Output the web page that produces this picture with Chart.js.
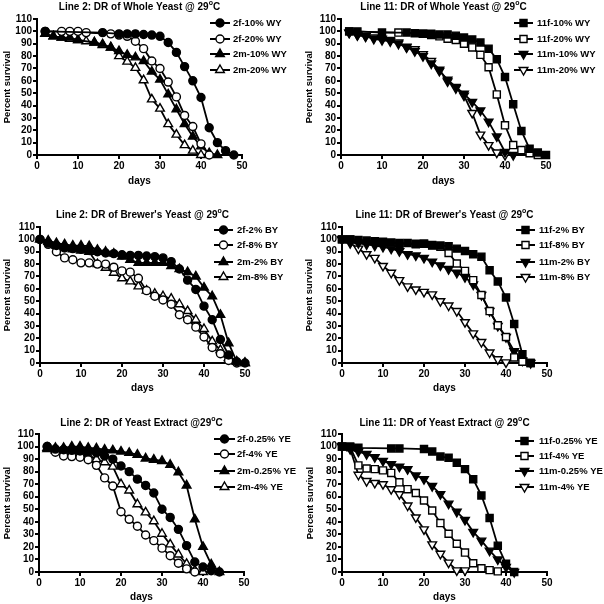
<!DOCTYPE html>
<html>
<head>
<meta charset="utf-8">
<script src="https://cdn.jsdelivr.net/npm/chart.js@4.4.0/dist/chart.umd.min.js"></script>
<style>
  html, body { margin: 0; padding: 0; background: #fff; }
  #wrap { position: relative; width: 604px; height: 604px; overflow: hidden; }
  canvas { position: absolute; }
</style>
</head>
<body>
<div id="wrap">
  <canvas id="p1" width="300" height="200" style="left:0;top:0"></canvas>
  <canvas id="p2" width="304" height="200" style="left:300px;top:0"></canvas>
  <canvas id="p3" width="300" height="200" style="left:0;top:200px"></canvas>
  <canvas id="p4" width="304" height="200" style="left:300px;top:200px"></canvas>
  <canvas id="p5" width="300" height="204" style="left:0;top:400px"></canvas>
  <canvas id="p6" width="304" height="204" style="left:300px;top:400px"></canvas>
</div>
<script>
// [day, percent survival]
// Line 2, whole yeast
const wy2_f10 = [[2,100],[16,99],[20,98],[22,98],[24,98],[26,97.5],[28,97],[30,96],[32,91],[34,83],[36,71.5],[38,60],[40,46.5],[42,22],[44,10],[46,3.5],[48,0]];
const wy2_f20 = [[2,100],[6,100],[8,100],[10,100],[12,99],[18,98],[20,97],[22,96],[24,92],[26,86],[28,76],[30,70],[32,59],[34,47],[36,32],[38,23],[40,9],[42,0]];
const wy2_m10 = [[2,98],[4,96],[6,95],[8,95],[10,93],[14,91],[16,89.5],[18,87],[20,84],[22,81],[24,79],[26,76],[28,67.5],[30,61],[32,49],[34,37],[36,25],[38,15],[40,7],[42,1.5],[44,0]];
const wy2_m20 = [[2,98],[4,96],[6,95],[8,94],[10,93],[12,92],[14,91],[16,89],[18,87],[20,80],[22,75.5],[24,70.5],[26,60.5],[28,45],[30,37.5],[32,25],[34,16.5],[36,8],[38,3.5],[40,0]];
// Line 11, whole yeast
const wy11_f10 = [[2,100],[4,100],[10,99],[16,99],[18,98.5],[20,98],[22,98],[24,97.5],[26,97.5],[28,96.5],[30,95],[32,93.5],[34,91],[36,86],[38,77.5],[40,63],[42,41],[44,19.5],[46,5],[48,2],[50,0]];
const wy11_f20 = [[2,100],[14,99],[20,98],[22,97],[24,96],[26,94],[28,93],[30,90],[32,87],[34,81],[36,71],[38,49],[40,24],[42,8],[44,4],[46,1.5],[48,0]];
const wy11_m10 = [[2,99],[4,97],[6,96],[8,94],[10,93],[12,92],[14,90],[16,87],[18,84],[20,80],[22,74],[24,68],[26,61],[28,55],[30,49.5],[32,43],[34,36],[36,27],[38,15],[40,2.5],[42,0]];
const wy11_m20 = [[2,99],[4,97],[6,96],[8,95],[10,94],[12,93],[14,91],[16,87.5],[18,85.5],[20,81.5],[22,76],[24,69],[26,59.5],[28,54],[30,48],[32,34],[34,16.5],[36,8],[38,2],[40,0]];
// Line 2, brewer's yeast
const by2_f2 = [[0,100],[2,97],[4,95],[6,93],[8,92.5],[10,92],[12,91],[14,90],[16,89],[18,88.5],[20,87.5],[22,87],[24,87],[26,86.5],[28,86],[30,85],[32,82],[34,76],[36,67],[38,59.5],[40,46],[42,35],[44,19],[46,6.5],[48,1],[50,0]];
const by2_f8 = [[0,100],[2,96],[4,90],[6,85],[8,83.5],[10,81],[12,81],[14,80],[16,80],[18,77.5],[20,74.5],[22,73.5],[24,68.5],[26,58.5],[28,54],[30,51],[32,47.5],[34,39],[36,35],[38,29],[40,21],[42,12.5],[44,7.5],[46,2],[48,0]];
const by2_m2 = [[0,100],[2,99],[4,97],[6,96],[8,95],[10,95],[12,94.5],[14,91.5],[16,90],[18,88.5],[20,86],[22,83.5],[24,81],[26,81],[28,81],[30,81],[32,78.5],[34,76],[36,73.5],[38,70],[40,61],[42,54],[44,39],[46,16],[48,1],[50,0]];
const by2_m8 = [[0,100],[2,98],[4,95],[6,93],[8,92],[10,91],[12,90],[14,80],[16,77],[18,73],[20,68.5],[22,66],[24,62],[26,58.5],[28,56],[30,54],[32,52],[34,47.5],[36,42],[38,35],[40,27.5],[42,17.5],[44,10.5],[46,4],[48,1],[50,0]];
// Line 11, brewer's yeast
const by11_f2 = [[0,100],[2,100],[4,99.5],[6,99],[8,98.5],[10,98],[12,97.5],[14,97],[16,97],[18,96.5],[20,96.5],[22,95.5],[24,95],[26,94.5],[28,92.5],[30,90.5],[32,88],[34,86],[36,75],[38,66],[40,53],[42,31.5],[44,7],[46,0]];
const by11_f8 = [[0,100],[2,100],[8,98],[14,96.5],[18,96],[20,96.5],[22,95],[24,94],[26,89],[28,80.5],[30,74.5],[32,67],[34,55],[36,42],[38,30.5],[40,21],[42,4.5],[44,1],[46,0]];
const by11_m2 = [[0,100],[2,98],[4,97],[6,96],[8,95],[10,94],[12,92.5],[14,90.5],[16,88],[18,87],[20,85],[22,82],[24,79],[26,76],[28,73],[30,69.5],[32,63.5],[34,55],[36,42],[38,30],[40,21],[42,9.5],[44,2],[46,0]];
const by11_m8 = [[0,100],[2,97],[4,92.5],[6,88],[8,85],[10,78.5],[12,73],[14,67],[16,62],[18,59.5],[20,57.5],[22,55.5],[24,50],[26,46.5],[28,42],[30,33],[32,24],[34,17],[36,8.5],[38,3],[40,0.5]];
// Line 2, yeast extract
const ye2_f025 = [[2,100],[4,98],[6,97.5],[8,97],[10,96.5],[12,96],[14,95],[16,92.5],[18,90],[20,84.5],[22,80],[24,74],[26,69],[28,63],[30,50],[32,43.5],[34,34],[36,21],[38,8],[40,4],[42,1],[44,0]];
const ye2_f4 = [[2,100],[4,95.5],[6,92.5],[8,92],[10,91.5],[12,89.5],[14,85],[16,75],[18,68.5],[20,48],[22,42],[24,36.5],[26,29.5],[28,25],[30,19],[32,13],[34,7],[36,2.5],[38,0]];
const ye2_m025 = [[2,99],[4,99],[6,99],[8,100],[10,100],[12,99],[14,98.5],[16,97.5],[18,97],[20,96],[22,95],[24,93.5],[26,90.5],[28,89.5],[30,88.5],[32,85.5],[34,79.5],[36,69],[38,42],[40,20],[42,6],[44,0]];
const ye2_m4 = [[2,98],[4,97],[6,96],[8,96],[10,95],[12,93],[14,90],[16,87.5],[18,84],[20,70],[22,65],[24,54],[26,47.5],[28,40.5],[30,30.5],[32,22],[34,14],[36,6.5],[38,1.3],[40,0]];
// Line 11, yeast extract
const ye11_f025 = [[0,100],[2,100],[4,99],[12,98.5],[14,98.5],[20,98],[22,96],[24,92],[26,91],[28,87],[30,82],[32,74],[34,61],[36,43],[38,21],[40,6.5],[42,0]];
const ye11_f4 = [[0,100],[2,99.5],[4,85],[6,82.5],[8,82],[10,81],[12,79],[14,71.5],[16,66],[18,63],[20,57],[22,49],[24,39],[26,30.5],[28,22.5],[30,15.5],[32,7],[34,3],[36,1.5],[38,0.5]];
const ye11_m025 = [[0,100],[2,99],[4,96],[6,94],[8,91.5],[10,88.5],[12,86],[14,84],[16,82],[18,77],[20,74],[22,68.5],[24,62],[26,54.5],[28,48],[30,41.5],[32,32],[34,25],[36,17],[38,10],[40,4],[42,0]];
const ye11_m4 = [[0,100],[2,98],[4,77.5],[6,72.5],[8,71],[10,70],[12,66],[14,62],[16,53],[18,43.5],[20,34],[22,22],[24,14.5],[26,7.5],[28,1.3],[30,1.3]];

const titles = [
  ['Line 2: DR of Whole Yeast @ 29', 'o', 'C'],
  ['Line 11: DR of Whole Yeast @ 29', 'o', 'C'],
  ["Line 2: DR of Brewer's Yeast @ 29", 'o', 'C'],
  ["Line 11: DR of Brewer's Yeast @ 29", 'o', 'C'],
  ['Line 2: DR of Yeast Extract @29', 'o', 'C'],
  ['Line 11: DR of Yeast Extract @ 29', 'o', 'C']
];
const labels1 = ['2f-10% WY', '2f-20% WY', '2m-10% WY', '2m-20% WY'];
const labels2 = ['11f-10% WY', '11f-20% WY', '11m-10% WY', '11m-20% WY'];
const labels3 = ['2f-2% BY', '2f-8% BY', '2m-2% BY', '2m-8% BY'];
const labels4 = ['11f-2% BY', '11f-8% BY', '11m-2% BY', '11m-8% BY'];
const labels5 = ['2f-0.25% YE', '2f-4% YE', '2m-0.25% YE', '2m-4% YE'];
const labels6 = ['11f-0.25% YE', '11f-4% YE', '11m-0.25% YE', '11m-4% YE'];
const xTicks = [0, 10, 20, 30, 40, 50];
const yTicks = [0, 10, 20, 30, 40, 50, 60, 70, 80, 90, 100, 110];

const FONT = '"Liberation Sans", Arial, sans-serif';
Chart.defaults.font.family = FONT;
Chart.defaults.color = '#000';

// marker styles: line 2 panels use circles/triangles, line 11 squares/down triangles
const marks2 = [
  { pointStyle: 'circle', radius: 4, fill: true, rot: 0 },
  { pointStyle: 'circle', radius: 4, fill: false, rot: 0 },
  { pointStyle: 'triangle', radius: 5, fill: true, rot: 0 },
  { pointStyle: 'triangle', radius: 5, fill: false, rot: 0 }
];
const marks11 = [
  { pointStyle: 'rect', radius: 5, fill: true, rot: 0 },
  { pointStyle: 'rect', radius: 5, fill: false, rot: 0 },
  { pointStyle: 'triangle', radius: 5, fill: true, rot: 180 },
  { pointStyle: 'triangle', radius: 5, fill: false, rot: 180 }
];

// draws the title (with superscript o) and the legend
const panelDeco = {
  id: 'panelDeco',
  afterDraw(chart, args, o) {
    const ctx = chart.ctx;
    const a = chart.chartArea;
    ctx.save();
    ctx.fillStyle = '#000';
    ctx.textBaseline = 'middle';
    const mainFont = 'bold 10px ' + FONT;
    const supFont = 'bold 7px ' + FONT;
    const t = o.title;
    ctx.font = mainFont;
    const w0 = ctx.measureText(t[0]).width;
    const w2 = ctx.measureText(t[2]).width;
    ctx.font = supFont;
    const w1 = ctx.measureText(t[1]).width;
    let x = (a.left + a.right) / 2 - (w0 + w1 + w2) / 2;
    ctx.textAlign = 'left';
    ctx.font = mainFont;
    ctx.fillText(t[0], x, o.titleY);
    x += w0;
    ctx.font = supFont;
    ctx.fillText(t[1], x, o.titleY - 4);
    x += w1;
    ctx.font = mainFont;
    ctx.fillText(t[2], x, o.titleY);

    // legend
    const lg = o.legend;
    chart.data.datasets.forEach((ds, i) => {
      const y = lg.rows[i];
      ctx.strokeStyle = '#000';
      ctx.lineWidth = 2;
      ctx.beginPath();
      ctx.moveTo(lg.x0, y);
      ctx.lineTo(lg.x1, y);
      ctx.stroke();
      ctx.fillStyle = ds.pointBackgroundColor;
      ctx.lineWidth = 1.4;
      Chart.helpers.drawPoint(ctx, {
        pointStyle: ds.pointStyle, radius: ds.pointRadius,
        rotation: ds.pointRotation, borderWidth: 1.4
      }, (lg.x0 + lg.x1) / 2, y);
      ctx.fillStyle = '#000';
      ctx.font = 'bold 9.5px ' + FONT;
      ctx.textAlign = 'left';
      ctx.fillText(ds.label, lg.tx, y + 0.5);
    });
    ctx.restore();
  }
};

function makePanel(id, series, labels, marks, cfg) {
  const canvas = document.getElementById(id);
  const W = canvas.width, H = canvas.height;
  const area = cfg.area;
  const datasets = series.map((s, i) => {
    const m = marks[i];
    return {
      label: labels[i],
      data: s.map(p => ({ x: p[0], y: p[1] })),
      borderColor: '#000',
      borderWidth: 1.8,
      tension: 0,
      clip: false,
      pointStyle: m.pointStyle,
      pointRadius: m.radius,
      pointHoverRadius: m.radius,
      pointRotation: m.rot,
      pointBackgroundColor: m.fill ? '#000' : '#fff',
      pointBorderColor: '#000',
      pointBorderWidth: 1.4
    };
  });
  const lh = 1.2;
  return new Chart(canvas, {
    type: 'line',
    data: { datasets: datasets },
    options: {
      responsive: false,
      animation: false,
      events: [],
      layout: { padding: { left: 0, top: area.top, right: W - area.right, bottom: 0 } },
      plugins: {
        legend: { display: false },
        title: { display: false },
        tooltip: { enabled: false },
        panelDeco: { title: cfg.title, titleY: cfg.titleY, legend: cfg.legend }
      },
      scales: {
        x: {
          type: 'linear', min: 0, max: 50,
          afterFit: s => { s.height = H - area.bottom; },
          afterBuildTicks: s => { s.ticks = xTicks.map(v => ({ value: v })); },
          ticks: { font: { size: 10, weight: 'bold' }, padding: 1, color: '#000', autoSkip: false, maxRotation: 0 },
          grid: { display: true, drawOnChartArea: false, drawTicks: true, tickLength: 4, color: '#000', lineWidth: 2 },
          border: { display: true, color: '#000', width: 2 },
          title: {
            display: true, text: 'days', color: '#000',
            font: { size: 10, weight: 'bold', lineHeight: lh },
            padding: { top: 0, bottom: H - cfg.daysY - 6 }
          }
        },
        y: {
          min: 0, max: 110,
          afterFit: s => { s.width = area.left; },
          afterBuildTicks: s => { s.ticks = yTicks.map(v => ({ value: v })); },
          ticks: { font: { size: 10, weight: 'bold' }, padding: 1, color: '#000', autoSkip: false },
          grid: { display: true, drawOnChartArea: false, drawTicks: true, tickLength: 4, color: '#000', lineWidth: 2 },
          border: { display: true, color: '#000', width: 2 },
          title: {
            display: true, text: 'Percent survival', color: '#000',
            font: { size: 9.4, weight: 'bold', lineHeight: lh },
            padding: { top: cfg.survX - 5.6, bottom: 0 }
          }
        }
      }
    },
    plugins: [panelDeco]
  });
}

makePanel('p1', [wy2_f10, wy2_f20, wy2_m10, wy2_m20], labels1, marks2, {
  area: { left: 37, right: 242, top: 19, bottom: 155 }, title: titles[0], titleY: 7,
  daysY: 181, survX: 7, legend: { x0: 210, x1: 230, tx: 233, rows: [23, 39, 54, 70] }
});
makePanel('p2', [wy11_f10, wy11_f20, wy11_m10, wy11_m20], labels2, marks11, {
  area: { left: 41, right: 246, top: 19, bottom: 155 }, title: titles[1], titleY: 7,
  daysY: 181, survX: 9, legend: { x0: 214, x1: 233, tx: 237, rows: [23, 39, 54, 70] }
});
makePanel('p3', [by2_f2, by2_f8, by2_m2, by2_m8], labels3, marks2, {
  area: { left: 40, right: 245, top: 27, bottom: 163 }, title: titles[2], titleY: 15,
  daysY: 188, survX: 7, legend: { x0: 214, x1: 233, tx: 237, rows: [30, 45, 62, 77] }
});
makePanel('p4', [by11_f2, by11_f8, by11_m2, by11_m8], labels4, marks11, {
  area: { left: 42, right: 247, top: 27, bottom: 163 }, title: titles[3], titleY: 15,
  daysY: 188, survX: 9, legend: { x0: 216, x1: 235, tx: 239, rows: [30, 45, 62, 77] }
});
makePanel('p5', [ye2_f025, ye2_f4, ye2_m025, ye2_m4], labels5, marks2, {
  area: { left: 39, right: 244, top: 34, bottom: 172 }, title: titles[4], titleY: 23,
  daysY: 197, survX: 7, legend: { x0: 214, x1: 235, tx: 237, rows: [39, 54, 71, 87] }
});
makePanel('p6', [ye11_f025, ye11_f4, ye11_m025, ye11_m4], labels6, marks11, {
  area: { left: 42, right: 247, top: 34, bottom: 172 }, title: titles[5], titleY: 23,
  daysY: 197, survX: 10, legend: { x0: 215, x1: 234, tx: 239, rows: [41, 56, 71, 87] }
});
</script>
</body>
</html>
